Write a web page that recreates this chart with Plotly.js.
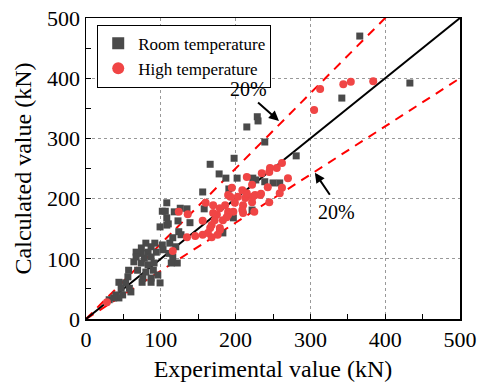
<!DOCTYPE html>
<html>
<head>
<meta charset="utf-8">
<script src="https://cdn.plot.ly/plotly-3.0.1.min.js"></script>
<style>html,body{margin:0;padding:0;background:#fff}#chart{width:478px;height:386px}</style>
</head>
<body>
<div id="chart"></div>
<script>
// Room temperature (squares)
const roomX = [366,433,342,229,230,215,239,198,281,166,178,156,108,102,118,135,158,108,123,139,99,108,124,92,112,102,202,227,191,259,250,222,197,183,187,239,223,106,126,122,
  110,127,116,87,80,74,67,74,83,94,103,111,120,67,78,87,64,74,83,91,57,69,80,90,96,87,76,56,99,114,53,44,47,58,40,49,60,44,37,31,87,75,116];
const roomY = [470,392,367,336,329,319,294,267,271,257,241,211,193,179,178,183,183,168,163,160,153,156,145,126,126,123,234,231,216,226,226,181,168,143,234,228,234,179,184,93,
  158,140,135,120,126,118,111,109,111,111,115,109,120,103,101,103,95,93,90,93,81,81,78,81,73,68,68,70,60,93,60,61,51,51,40,40,45,35,35,32,61,61,103];
// High temperature (circles)
const highX = [305,313,344,354,384,262,270,255,246,235,245,243,262,259,245,225,215,233,222,209,195,190,203,213,223,199,186,210,222,175,179,190,197,209,183,168,179,170,156,168,146,135,170,160,179,166,190,210,226,234,215,193,124,136,156,172,188,163,176,116,28];
const highY = [347,382,390,394,395,259,234,251,251,242,244,219,218,209,194,178,236,206,223,214,218,206,203,201,203,193,189,189,194,173,184,178,178,181,164,156,148,176,140,136,138,136,189,193,151,151,173,176,206,208,209,203,178,174,163,164,169,143,140,113,28];
// Reference lines: y = k * x
const refX = [0, 500];
const refK = {equal: 1.0, upper: 1.25, lower: 0.8};
const tickVals = [0,100,200,300,400,500];

const font = "'Liberation Serif', 'Times New Roman', serif";
const lineTrace = (k, color, dash) => ({
  x: refX, y: refX.map(v => v * k), mode: 'lines', showlegend: false, hoverinfo: 'skip',
  line: {color: color, width: 2, dash: dash}, cliponaxis: true
});

const traces = [
  lineTrace(refK.upper, '#ff0000', '9px,7px'),
  lineTrace(refK.lower, '#ff0000', '9px,7px'),
  lineTrace(refK.equal, '#000000', 'solid'),
  {x: roomX, y: roomY, mode: 'markers', type: 'scatter', name: 'Room temperature',
   marker: {symbol: 'square', size: 7, color: '#4a4a4a'}},
  {x: highX, y: highY, mode: 'markers', type: 'scatter', name: 'High temperature',
   marker: {symbol: 'circle', size: 8, color: '#f04545'}}
];

const axisCommon = {
  range: [0, 500], tickvals: tickVals, ticks: 'inside', ticklen: 5, tickwidth: 1, tickcolor: '#000',
  showline: true, linecolor: '#000', linewidth: 1.5, mirror: true,
  showgrid: true, gridcolor: '#999', griddash: 'dot', gridwidth: 1, zeroline: false,
  tickfont: {family: font, size: 22, color: '#000'},
  minor: {dtick: 50, tick0: 0, ticks: 'inside', ticklen: 5, tickcolor: '#000', showgrid: false}
};

const layout = {
  width: 478, height: 386,
  margin: {l: 86, r: 18, t: 18, b: 67},
  paper_bgcolor: '#fff', plot_bgcolor: '#fff',
  font: {family: font, color: '#000'},
  xaxis: Object.assign({}, axisCommon, {title: {text: 'Experimental value (kN)', font: {family: font, size: 24, color: '#000'}, standoff: 9}}),
  yaxis: Object.assign({}, axisCommon, {title: {text: 'Calculated value (kN)', font: {family: font, size: 24, color: '#000'}, standoff: 8}}),
  legend: {x: 0.03, y: 0.978, xanchor: 'left', yanchor: 'top', bgcolor: '#fff', bordercolor: '#000', borderwidth: 1,
           font: {family: font, size: 17, color: '#000'}, tracegroupgap: 0, itemsizing: 'constant'},
  showlegend: true,
  annotations: [
    {x: 217, y: 382, text: '20%', showarrow: false, font: {family: font, size: 20, color: '#000'}},
    {x: 258, y: 329, ax: 226, ay: 364, axref: 'x', ayref: 'y', text: ' ', showarrow: true, arrowhead: 2, arrowsize: 1, arrowwidth: 2, arrowcolor: '#000'},
    {x: 335, y: 178, text: '20%', showarrow: false, font: {family: font, size: 20, color: '#000'}},
    {x: 306, y: 243, ax: 330, ay: 199, axref: 'x', ayref: 'y', text: ' ', showarrow: true, arrowhead: 2, arrowsize: 1, arrowwidth: 2, arrowcolor: '#000'}
  ]
};

Plotly.newPlot('chart', traces, layout, {displayModeBar: false, staticPlot: true});
</script>
</body>
</html>
